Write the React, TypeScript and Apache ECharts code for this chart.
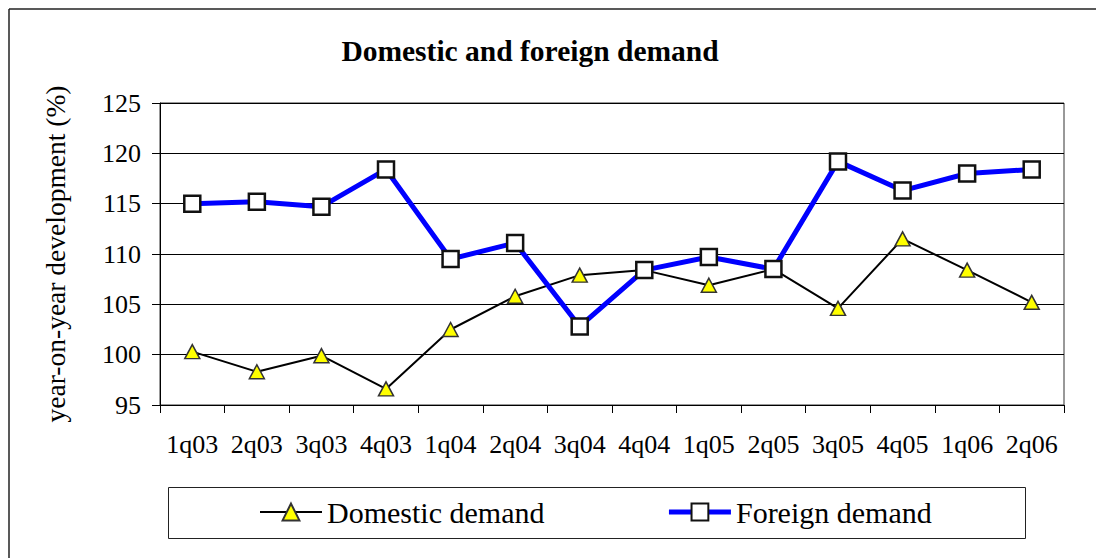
import React, { useEffect, useRef } from "react";
import * as echarts from "echarts";

const categories = ["1q03", "2q03", "3q03", "4q03", "1q04", "2q04", "3q04", "4q04", "1q05", "2q05", "3q05", "4q05", "1q06", "2q06"];
const domesticDemand = [100.3, 98.3, 99.9, 96.6, 102.5, 105.8, 107.9, 108.4, 106.9, 108.5, 104.6, 111.5, 108.4, 105.2];
const foreignDemand = [115.0, 115.2, 114.7, 118.4, 109.5, 111.1, 102.8, 108.4, 109.7, 108.5, 119.2, 116.3, 118.0, 118.4];
const titleText = "Domestic and foreign demand";
const yAxisName = "year-on-year development (%)";
const seriesNames = ["Domestic demand", "Foreign demand"];

const FONT = "Liberation Serif";

export default function App() {
  const ref = useRef<HTMLDivElement>(null);
  useEffect(() => {
    if (!ref.current) return;
    const chart = echarts.init(ref.current, null, { renderer: "svg" });
    chart.setOption({
      animation: false,
      backgroundColor: "#ffffff",
      title: {
        text: titleText,
        left: 530,
        textAlign: "center",
        top: 36,
        padding: 0,
        textStyle: { fontFamily: FONT, fontSize: 29.5, fontWeight: "bold", color: "#000" },
      },
      grid: {
        left: 160,
        right: 32,
        top: 103,
        bottom: 153,
        show: true,
        borderColor: "#333",
        borderWidth: 1,
        backgroundColor: "transparent",
      },
      legend: {
        data: seriesNames,
        left: 259,
        top: 497,
        padding: 0,
        itemWidth: 62,
        itemHeight: 21,
        itemGap: 122,
        lineStyle: { width: "inherit" },
        textStyle: { fontFamily: FONT, fontSize: 30, color: "#000" },
      },
      graphic: [
        {
          type: "line",
          shape: { x1: 9, y1: 9, x2: 1096, y2: 9 },
          style: { stroke: "#222", lineWidth: 1.5 },
          silent: true,
          z: -10,
        },
        {
          type: "line",
          shape: { x1: 9, y1: 9, x2: 9, y2: 558 },
          style: { stroke: "#222", lineWidth: 1.5 },
          silent: true,
          z: -10,
        },
        {
          type: "rect",
          shape: { x: 168.5, y: 487.5, width: 857, height: 51 },
          style: { fill: "none", stroke: "#222", lineWidth: 1 },
          silent: true,
        },
      ],
      xAxis: {
        type: "category",
        data: categories,
        boundaryGap: true,
        axisLine: { lineStyle: { color: "#000", width: 1 } },
        axisTick: { show: true, length: 8, interval: 0, lineStyle: { color: "#000" } },
        axisLabel: { interval: 0, margin: 26, fontFamily: FONT, fontSize: 26, color: "#000" },
        splitLine: { show: false },
      },
      yAxis: {
        type: "value",
        min: 95,
        max: 125,
        interval: 5,
        name: yAxisName,
        nameLocation: "middle",
        nameGap: 91,
        nameRotate: 90,
        nameTextStyle: { fontFamily: FONT, fontSize: 27.5, color: "#000" },
        axisLine: { show: true, lineStyle: { color: "#000", width: 1 } },
        axisTick: { show: true, length: 8, lineStyle: { color: "#000" } },
        axisLabel: { margin: 19, fontFamily: FONT, fontSize: 26, color: "#000" },
        splitLine: { show: true, lineStyle: { color: "#000", width: 1 } },
      },
      series: [
        {
          name: seriesNames[0],
          type: "line",
          data: domesticDemand,
          symbol: "triangle",
          symbolSize: [15, 14],
          lineStyle: { color: "#000", width: 2 },
          itemStyle: { color: "#ffff00", borderColor: "#333", borderWidth: 1.5 },
          z: 3,
        },
        {
          name: seriesNames[1],
          type: "line",
          data: foreignDemand,
          symbol: "rect",
          symbolSize: 16,
          lineStyle: { color: "#0000ff", width: 5 },
          itemStyle: { color: "#ffffff", borderColor: "#111", borderWidth: 2.5 },
          z: 4,
        },
      ],
    });
    return () => chart.dispose();
  }, []);
  return (
    <div
      ref={ref}
      style={{ position: "fixed", left: 0, top: 0, width: 1096, height: 558, background: "#fff" }}
    />
  );
}
